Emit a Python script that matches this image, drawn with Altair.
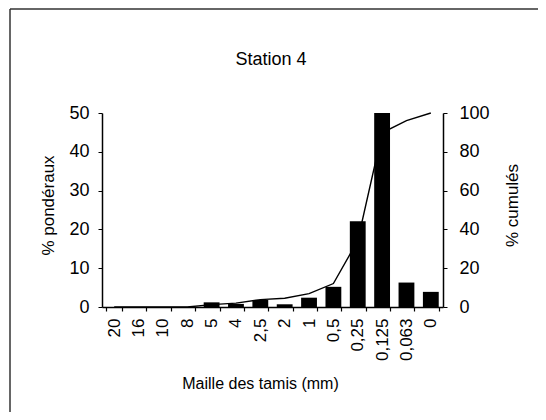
import altair as alt
import pandas as pd

mailles = ["20", "16", "10", "8", "5", "4", "2,5", "2", "1", "0,5", "0,25", "0,125", "0,063", "0"]
ponderaux = [0, 0, 0, 0, 1.2, 0.8, 1.8, 0.7, 2.4, 5.2, 22.1, 55.6, 6.3, 3.9]
cumules = [0, 0, 0, 0, 1.2, 2.0, 3.8, 4.5, 6.9, 12.1, 34.2, 89.8, 96.1, 100]
titre = "Station 4"

df = pd.DataFrame({"maille": mailles, "pond": ponderaux, "cum": cumules})
FONT = "Liberation Sans"

x_enc = alt.X(
    "maille:N", sort=None,
    scale=alt.Scale(paddingInner=0.35, paddingOuter=0.175),
    axis=alt.Axis(
        title="Maille des tamis (mm)", labelAngle=270, labelFontSize=17,
        labelPadding=7, tickSize=4, tickBand="extent", domainColor="black",
        tickColor="black", domainWidth=1.5, tickWidth=1.2, labelColor="black",
        titleFontSize=16, titleFontWeight="normal", titleColor="black",
        titleX=158, titleY=76, titleBaseline="middle", titleAlign="center",
        labelFont=FONT, titleFont=FONT,
    ),
)

line = alt.Chart(df).mark_line(color="black", strokeWidth=1.4).encode(
    x=x_enc,
    y=alt.Y(
        "cum:Q", scale=alt.Scale(domain=[0, 100]),
        axis=alt.Axis(
            orient="right", title="% cumulés", values=[0, 20, 40, 60, 80, 100],
            grid=False, labelFontSize=18, labelPadding=12, tickSize=4,
            domainColor="black", tickColor="black", domainWidth=1.5,
            labelColor="black", titleFontSize=17, titleFontWeight="normal",
            titleColor="black", titleAngle=270, titleX=69, titleY=92,
            titleAlign="center", titleBaseline="middle",
            labelFont=FONT, titleFont=FONT,
        ),
    ),
)

bars = alt.Chart(df).mark_bar(color="black", clip=True).encode(
    x=x_enc,
    y=alt.Y(
        "pond:Q", scale=alt.Scale(domain=[0, 50]),
        axis=alt.Axis(
            orient="left", title="% pondéraux", values=[0, 10, 20, 30, 40, 50],
            grid=False, labelFontSize=18, labelPadding=9, tickSize=4,
            domainColor="black", tickColor="black", domainWidth=1.5,
            labelColor="black", titleFontSize=17, titleFontWeight="normal",
            titleColor="black", titleAngle=270, titleX=-54, titleY=92,
            titleAlign="center", titleBaseline="middle",
            labelFont=FONT, titleFont=FONT,
        ),
    ),
)

one_df = pd.DataFrame({"k": [0]})
top_rule = alt.Chart(one_df).mark_rule(color="#333333", strokeWidth=1.5, clip=False).encode(
    x=alt.value(-92), x2=alt.value(460), y=alt.value(-104)
)
left_rule = alt.Chart(one_df).mark_rule(color="#333333", strokeWidth=1.5, clip=False).encode(
    x=alt.value(-92), y=alt.value(-104), y2=alt.value(320)
)
title_text = alt.Chart(one_df).mark_text(
    font=FONT, fontSize=18, color="black", align="center", baseline="middle", clip=False
).encode(x=alt.value(169), y=alt.value(-53), text=alt.value(titre))

chart = alt.layer(line, bars, top_rule, left_rule, title_text).resolve_scale(y="independent").properties(
    width=341, height=194,
    autosize=alt.AutoSizeParams(type="none"),
    padding={"left": 94, "top": 105, "right": 95, "bottom": 105},
).configure_view(stroke=None)

chart.save("out.html", embed_options={"renderer": "svg", "actions": False})
